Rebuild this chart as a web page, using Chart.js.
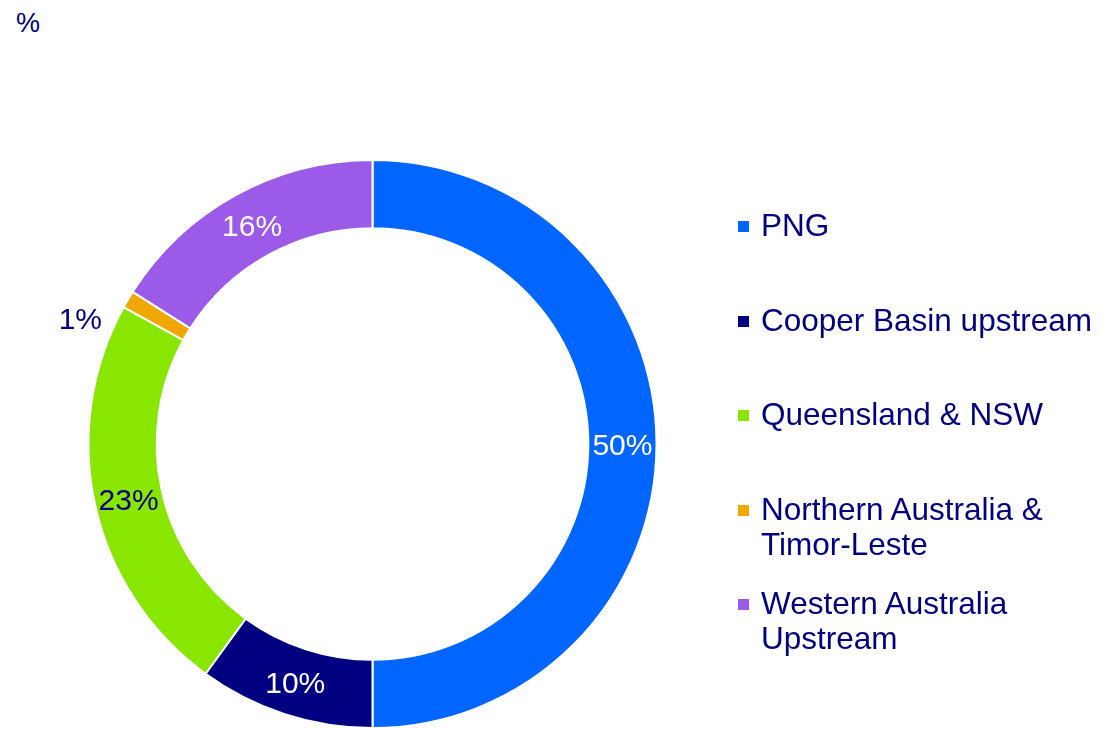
<!DOCTYPE html>
<html>
<head>
<meta charset="utf-8">
<script src="https://cdn.jsdelivr.net/npm/chart.js@4.4.1/dist/chart.umd.min.js"></script>
<style>
    html, body { margin: 0; padding: 0; background: #fff; overflow: hidden; }
    body { width: 1101px; height: 729px; position: relative; font-family: 'Liberation Sans', Arial, sans-serif; color: #000080; }
    #unit { position: absolute; left: 16px; top: 8px; font-size: 27px; }
    #chart-box { position: absolute; left: 0; top: 0; width: 745px; height: 729px; }
    #legend { position: absolute; left: 738px; top: 208px; width: 363px; }
    #legend .item { position: relative; padding-left: 23px; font-size: 31.5px; line-height: 35px; height: 94.5px; }
    #legend .box { position: absolute; left: 0; top: 13px; width: 11px; height: 11px; }
</style>
</head>
<body>
<div id="unit">%</div>
<div id="chart-box"><canvas id="share-chart"></canvas></div>
<div id="legend"></div>
<script>
var regions = ['PNG', 'Cooper Basin upstream', 'Queensland & NSW', 'Northern Australia & Timor-Leste', 'Western Australia Upstream'];
var shares = [50, 10, 23, 1, 16];
var colours = ['#0066ff', '#000080', '#88e600', '#f0a800', '#9b5ae8'];
var labelColours = ['#ffffff', '#ffffff', '#000080', '#000080', '#ffffff'];
var legendLines = [['PNG'], ['Cooper Basin upstream'], ['Queensland & NSW'], ['Northern Australia &', 'Timor-Leste'], ['Western Australia', 'Upstream']];

// legend on the right
var lg = document.getElementById('legend');
legendLines.map(function(lines, i){
    var str = '<div class="item"><span class="box" style="background:'+colours[i]+'"></span>';
    str += lines.join('<br>');
    str += '</div>';
    lg.innerHTML += str;
});

// percentage labels; the thin slice gets its label outside the ring
var sliceLabels = {
    id: 'sliceLabels',
    afterDatasetsDraw: function(chart){
        var ctx = chart.ctx;
        var arcs = chart.getDatasetMeta(0).data;
        ctx.save();
        ctx.font = '30px "Liberation Sans", Arial, sans-serif';
        ctx.textBaseline = 'middle';
        arcs.map(function(arc, i){
            var txt = Math.round(shares[i]) + '%';
            ctx.fillStyle = labelColours[i];
            if(shares[i] < 3){
                var mid = (arc.startAngle + arc.endAngle) / 2;
                var x = arc.x + Math.cos(mid) * arc.outerRadius;
                var y = arc.y + Math.sin(mid) * arc.outerRadius;
                ctx.textAlign = 'right';
                ctx.fillText(txt, x - 26, y + 21);
            } else {
                var p = arc.getCenterPoint();
                ctx.textAlign = 'center';
                ctx.fillText(txt, p.x, p.y + 3);
            }
        });
        ctx.restore();
    }
};

var myChart = new Chart(document.getElementById('share-chart'), {
    type: 'doughnut',
    data: {
        labels: regions,
        datasets: [{
            data: shares,
            backgroundColor: colours,
            borderColor: '#ffffff',
            borderWidth: 2
        }]
    },
    options: {
        cutout: '76%',
        animation: false,
        responsive: true,
        maintainAspectRatio: false,
        layout: { padding: { left: 87, right: 87, top: 159, bottom: 0 } },
        plugins: {
            legend: { display: false },
            tooltip: { enabled: false }
        }
    },
    plugins: [sliceLabels]
});
</script>
</body>
</html>
